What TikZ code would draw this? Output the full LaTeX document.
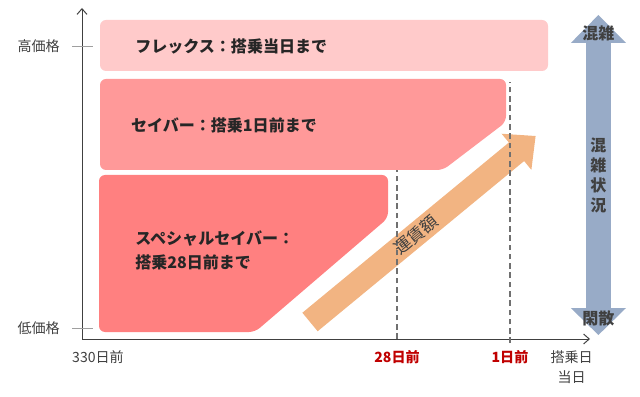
\documentclass[tikz,border=0pt]{standalone}
\usepackage{fontspec}
\setmainfont{Noto Sans CJK JP}
\usetikzlibrary{arrows.meta,positioning}
\definecolor{pk1}{HTML}{FFCACA}
\definecolor{pk2}{HTML}{FF9999}
\definecolor{pk3}{HTML}{FF8080}
\definecolor{org}{HTML}{F2B482}
\definecolor{blu}{HTML}{98ABC7}
\definecolor{pag}{HTML}{404040}
\definecolor{drd}{HTML}{C00000}

\begin{document}
\begin{tikzpicture}[
	axlbl/.style={text=pag, font=\fontsize{10}{12}\selectfont, inner sep=0pt},
	boxlbl/.style={text=black!85, font=\bfseries\fontsize{11.4}{17}\selectfont, inner sep=0pt, anchor=west, align=left},
	daylbl/.style={text=drd, font=\bfseries\fontsize{10}{12}\selectfont, inner sep=0pt},
	crowd/.style={text=pag, font=\bfseries\fontsize{11.4}{14.2}\selectfont, inner sep=0pt, align=center},
	dashline/.style={pag!75, line width=1.6pt, dash pattern=on 4pt off 2.6pt}
	]

		\useasboundingbox (0,0) rectangle (16,9.9);

		% Fare boxes
		\fill[pk1, rounded corners=0.15cm] (2.5,8.125) rectangle (13.7,9.4);
		\fill[pk2, rounded corners=0.15cm] (2.5,5.65) -- (2.5,7.925) -- (12.65,7.925) -- (12.65,6.85) -- (11.075,5.65) -- cycle;
		\fill[pk3, rounded corners=0.15cm] (2.475,1.6) -- (2.475,5.525) -- (9.7,5.525) -- (9.7,4.45) -- (6.375,1.6) -- cycle;

		\node[boxlbl] (flex) at (3.375,8.75) {フレックス：搭乗当日まで};
		\node[boxlbl] (saver) at (3.27,6.775) {セイバー：搭乗1日前まで};
		\node[boxlbl] (special) at (3.375,3.65) {スペシャルセイバー：\\搭乗28日前まで};

		% Fare arrow
		\begin{scope}[shift={(7.75,1.85)}, rotate=39.5]
			\fill[org] (0,-0.3) -- (6.69,-0.3) -- (6.69,-0.585) -- (7.31,0) -- (6.69,0.585) -- (6.69,0.3) -- (0,0.3) -- cycle;
			\coordinate (fmid) at (3.43,0);
		\end{scope}

		% Axes
		\coordinate (O) at (2.05,1.425);
		\coordinate (ytop) at (2.05,9.7);
		\coordinate (xend) at (14.75,1.425);
		\draw[line width=0.7pt, pag, -{Straight Barb[length=4pt,width=7pt]}] (O) -- (ytop);
		\draw[line width=0.7pt, pag, -{Straight Barb[length=4pt,width=7pt]}] (O) -- (xend);

		% Price ticks
		\coordinate (hi) at (2.05,8.75);
		\coordinate (lo) at (2.05,1.7);
		\draw[pag!50] ([xshift=-0.25cm]hi) -- ([xshift=0.275cm]hi);
		\draw[pag!50] ([xshift=-0.25cm]lo) -- ([xshift=0.275cm]lo);
		\node[axlbl, left=0.55cm of hi] (hilbl) {高価格};
		\node[axlbl, left=0.55cm of lo] (lolbl) {低価格};

		% Day lines
		\coordinate (d28) at (9.925,1.425);
		\coordinate (d28t) at (9.925,5.65);
		\coordinate (d1) at (12.75,1.325);
		\coordinate (d1t) at (12.75,7.85);
		\draw[dashline] (d28) -- (d28t);
		\draw[dashline] (d1) -- (d1t);

		\node[axlbl] (d330lbl) at (2.45,0.975) {330日前};
		\node[daylbl] (d28lbl) at (9.925,0.975) {28日前};
		\node[daylbl] (d1lbl) at (12.75,0.975) {1日前};
		\node[axlbl, align=center, font=\fontsize{10}{14.2}\selectfont] (d0lbl) at (14.29,0.725) {搭乗日\\当日};

		% Fare label
		\node[text=pag, font=\fontsize{12}{14}\selectfont, rotate=39.5, inner sep=0pt] (fare) at (fmid) {運賃額};

		% Crowd arrow
		\fill[blu] (14.96,9.525) -- (15.65,8.825) -- (15.27,8.825) -- (15.27,2.2) -- (15.65,2.2) -- (14.96,1.525) -- (14.27,2.2) -- (14.65,2.2) -- (14.65,8.825) -- (14.27,8.825) -- cycle;
		\node[crowd] (busy) at (14.96,9.075) {混雑};
		\node[crowd] (quiet) at (14.96,1.95) {閑散};
		\node[crowd] (state) at (14.96,5.51) {混\\雑\\状\\況};

	\end{tikzpicture}
\end{document}
